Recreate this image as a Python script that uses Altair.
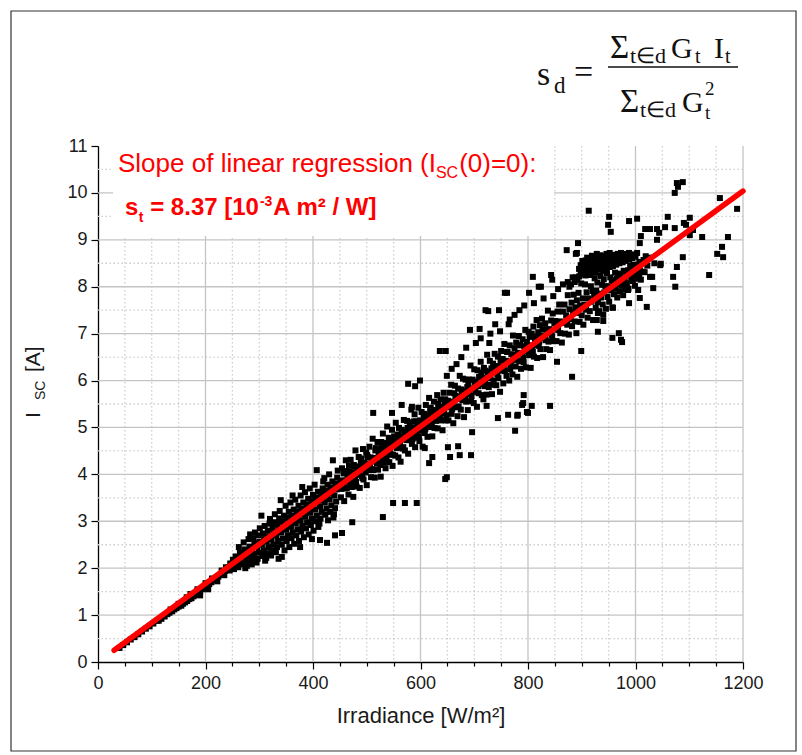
import altair as alt
import pandas as pd

# ---------------- data ----------------
# (irradiance W/m², I_SC A) pairs, grouped by region of the cloud
pts_low = [(40,0.30),(47,0.36),(54,0.42),(61,0.48),(68,0.53),(75,0.59),(82,0.65),(89,0.71),
           (96,0.76),(103,0.82),(110,0.88)]
pts_b = [(113,0.88),(118,0.92),(124,0.97),(129,1.02),(133,1.05),(138,1.08),(142,1.12),(146,1.15),
         (150,1.18),(155,1.20),(158,1.24),(162,1.27),(166,1.30),(170,1.34),(174,1.36),(178,1.40),
         (182,1.43),(186,1.47),(190,1.50),(194,1.55),(198,1.58),(203,1.62),(207,1.66),(211,1.70),
         (215,1.75),(220,1.78),(224,1.82),(228,1.86),(232,1.90),(236,1.94),(240,1.98),(244,2.02),
         (248,2.05),(165,1.38),(172,1.45),(185,1.55),(200,1.68),(212,1.78),(230,1.95),(238,2.02),
         (246,2.10),(150,1.24),(135,1.12),(190,1.42),(205,1.55),(222,1.72),(235,1.85),(245,1.95)]
pts_c = [(253,1.98),(255,2.08),(251,2.18),(256,2.25),
         (261,2.02),(263,2.12),(260,2.24),(264,2.33),(262,2.45),
         (270,2.08),(272,2.18),(269,2.30),(273,2.40),(271,2.55),(274,2.00),
         (279,2.12),(281,2.24),(278,2.36),(282,2.46),(280,2.62),(283,2.72),(277,2.05),
         (288,2.18),(290,2.30),(287,2.40),(291,2.52),(289,2.64),(292,2.76),(286,2.08),
         (297,2.20),(299,2.33),(296,2.45),(300,2.56),(298,2.70),(301,2.85),(295,2.12),
         (306,2.26),(308,2.38),(305,2.50),(309,2.62),(307,2.74),(310,2.90),(304,3.12),(311,2.16),
         (315,2.32),(317,2.45),(314,2.57),(318,2.68),(316,2.80),(319,2.95),(313,2.22),(320,3.05),
         (324,2.38),(326,2.50),(323,2.62),(327,2.74),(325,2.86),(328,2.98),(322,2.27),(329,3.15),
         (333,2.45),(335,2.58),(332,2.70),(336,2.82),(334,2.94),(337,3.06),(331,2.34),(338,3.22),(336,2.20),
         (342,2.50),(344,2.63),(341,2.76),(345,2.88),(343,3.00),(346,3.12),(340,3.45),(347,2.38),(342,2.24),
         (351,2.58),(353,2.70),(350,2.82),(354,2.95),(352,3.07),(355,3.20),(349,3.33),(356,2.45),
         (360,2.64),(362,2.76),(359,2.88),(363,3.00),(361,3.12),(364,3.25),(358,3.40),(365,2.52),(362,3.55),
         (369,2.70),(371,2.83),(368,2.96),(372,3.08),(370,3.20),(373,3.33),(367,3.46),(374,2.58),(376,2.45),
         (378,2.78),(380,2.90),(377,3.02),(381,3.15),(379,3.27),(382,3.40),(380,3.73),(383,2.66),(377,3.55),
         (387,2.85),(389,2.98),(386,3.10),(390,3.22),(388,3.35),(391,3.48),(385,3.62),(392,2.72),
         (396,2.92),(398,3.05),(395,3.18),(399,3.30),(397,3.43),(400,3.56),(394,3.70),(401,2.80),(398,2.62),
         (405,3.00),(407,3.12),(404,3.25),(408,3.38),(406,3.50),(409,3.63),(407,4.09),(403,3.78),(410,2.88),
         (414,3.06),(416,3.20),(413,3.32),(417,3.45),(415,3.58),(418,3.70),(413,2.60),(419,3.85),(412,2.95),
         (423,3.14),(425,3.27),(422,3.40),(426,3.52),(424,3.65),(427,3.78),(426,2.54),(421,3.92),(428,3.02),
         (432,3.20),(434,3.34),(431,3.47),(435,3.60),(433,3.72),(436,3.85),(437,4.30),(430,4.00),(438,3.08),
         (441,3.28),(443,3.42),(440,3.55),(444,3.68),(442,3.80),(445,3.93),(441,2.70),(446,4.08),(439,3.15)]
pts_d = [(451,3.86),(452,3.51),(454,4.13),(455,3.75),(457,4.02),(458,3.43),(460,3.87),(461,4.30),
         (463,3.71),(464,4.00),(466,3.57),(467,4.18),(469,3.90),(470,4.31),(472,3.73),(473,4.03),
         (475,3.52),(476,4.20),(478,3.90),(479,4.51),(481,3.74),(482,4.17),(484,4.04),(485,4.37),
         (487,3.71),(488,4.12),(490,4.34),(491,3.96),(493,4.54),(494,3.89),(496,4.25),(497,4.10),
         (499,4.47),(500,3.77),(502,4.37),(503,4.09),(505,4.59),(506,4.22),(508,3.94),(509,4.35),
         (511,4.76),(512,4.09),(514,4.35),(515,3.93),(517,4.56),(518,4.26),(520,4.69),(521,4.10),
         (523,4.51),(524,4.39),(526,3.95),(527,4.69),(529,4.32),(530,4.87),(532,4.25),(533,4.52),
         (535,4.13),(536,4.67),(538,5.02),(539,4.46),(541,4.78),(542,4.26),(544,4.66),(545,4.42),
         (547,4.95),(548,4.18),(550,4.63),(551,4.81),(553,4.40),(554,5.10),(556,4.56),(557,4.81),
         (559,4.36),(560,4.99),(562,4.69),(563,4.27),(565,4.95),(566,4.81),(568,4.58),(569,5.16),
         (571,4.51),(572,4.91),(574,4.73),(575,5.14),(577,4.44),(578,4.88),(580,5.11),(581,4.73),
         (583,5.38),(584,4.65),(586,5.00),(587,4.87),(589,5.28),(590,4.58),(592,5.13),(593,4.78),
         (595,4.98),(596,5.42),(598,4.71),(599,5.15),(601,4.93),(602,5.33),(604,4.59),(605,5.12),
         (607,5.29),(608,4.88),(610,5.48),(611,5.09),(613,4.80),(614,5.25),(616,5.63),(617,5.01),
         (619,5.42),(620,5.12),(622,4.81),(623,5.37),(625,5.55),(626,4.99),(628,5.30),(629,5.14),
         (631,5.69),(632,4.98),(634,5.44),(635,5.28),(637,5.60),(638,5.15),(640,5.44),(641,4.94),
         (643,5.74),(644,5.30),(646,5.60),(647,5.15),(649,5.46),
         (453,3.69),(456,3.87),(459,3.70),(462,4.07),(465,3.84),(468,4.05),(471,3.82),(474,3.99),
         (477,4.16),(480,3.84),(483,4.12),(486,3.99),(489,4.24),(492,3.92),(495,4.18),(498,4.04),
         (501,4.41),(504,4.19),(507,4.36),(510,4.11),(513,4.30),(516,4.51),(519,4.23),(522,4.44),
         (525,4.20),(528,4.58),(531,4.40),(534,4.57),(537,4.33),(540,4.55),(543,4.46),(546,4.71),
         (549,4.42),(552,4.71),(555,4.60),(558,4.85),(561,4.58),(564,4.78),(567,4.55),(570,4.87),
         (573,4.78),(576,4.99),(579,4.76),(582,4.92),(585,4.75),(588,5.13),(591,4.89),(594,5.08),
         (597,4.81),(600,5.06),(603,4.97),(606,5.22),(609,4.97),(612,5.20),(615,5.10),(618,5.35),
         (621,5.03),(624,5.24),(627,5.37),(630,5.18),(633,5.50),(636,5.18),(639,5.41),(642,5.33),
         (645,5.54),(648,5.26),
         (454,2.75),(473,2.98),(530,3.09),(549,3.39),(571,3.39),(593,3.39),(512,5.31),(547,5.31),
         (565,5.48),(584,5.44),(577,5.93),(590,5.88),(599,6.00),(636,6.63),(647,6.63),(608,4.56),
         (616,4.24),(622,4.37),(646,3.90),(649,3.94)]
pts_e = [(651,5.57),(652,5.15),(654,5.74),(655,5.43),(657,5.91),(658,5.29),(660,5.55),(661,5.09),
         (663,5.73),(664,5.89),(666,5.43),(667,5.66),(669,5.24),(670,5.83),(672,5.61),(673,6.10),
         (675,5.38),(676,5.81),(678,5.58),(679,6.04),(681,5.22),(682,5.77),(684,6.02),(685,5.55),
         (687,5.86),(688,5.37),(690,6.02),(691,5.71),(693,6.32),(694,5.56),(696,5.83),(697,6.02),
         (699,5.52),(700,6.24),(702,5.76),(703,5.98),(705,5.44),(706,6.22),(708,5.73),(709,6.08),
         (711,5.92),(712,6.40),(714,5.69),(715,6.06),(717,5.60),(718,6.27),(720,5.93),(721,6.21),
         (723,5.70),(724,6.55),(726,6.08),(727,5.86),(729,6.42),(730,6.05),(732,6.26),(733,5.71),
         (735,6.36),(736,6.00),(738,6.57),(739,6.18),(741,5.90),(742,6.31),(744,6.51),(745,6.05),
         (747,6.29),(748,5.76),(750,6.63),(751,6.21),(753,6.46),(754,5.94),(756,6.78),(757,6.20),
         (759,6.42),(760,6.10),(762,6.61),(763,6.39),(765,6.00),(766,6.75),(768,6.32),(769,6.56),
         (771,6.13),(772,6.96),(774,6.44),(775,6.69),(777,6.30),(778,6.81),(780,6.08),(781,6.59),
         (783,6.95),(784,6.41),(786,6.75),(787,6.25),(789,6.58),(790,6.88),(792,6.39),(793,6.73),
         (795,7.08),(796,6.28),(798,6.82),(799,6.62),(801,7.04),(802,6.54),(804,6.75),(805,6.27),
         (807,7.00),(808,6.66),(810,7.15),(811,6.51),(813,6.88),(814,6.76),(816,7.29),(817,6.48),
         (819,7.03),(820,6.74),(822,7.18),(823,6.67),(825,6.95),(826,7.32),(828,6.50),(829,7.09),
         (831,6.90),(832,7.22),(834,6.67),(835,7.09),(837,7.49),(838,6.83),(840,7.09),(841,6.65),
         (843,7.28),(844,6.98),(846,7.43),(847,6.84),(849,7.22),
         (653,5.52),(659,5.40),(665,5.67),(671,5.45),(677,5.69),(683,5.64),(689,5.93),(695,5.67),
         (701,5.94),(707,5.88),(713,6.17),(719,5.88),(725,6.18),(731,5.91),(737,6.22),(743,6.13),
         (749,6.42),(755,6.29),(761,6.61),(767,6.24),(773,6.55),(779,6.46),(785,6.76),(791,6.49),
         (797,6.70),(803,6.93),(809,6.61),(815,6.94),(821,6.83),(827,7.09),(833,6.86),(839,7.09),
         (845,6.93),
         (685,6.70),(692,7.08),(703,6.80),(710,7.10),(712,6.90),(721,7.50),(728,6.80),(730,7.00),
         (739,7.20),(746,7.50),(748,7.05),(757,7.87),(764,7.20),(766,7.30),(775,7.40),(784,7.50),
         (793,7.60),(802,7.87),(809,8.21),(811,7.65),(820,8.00),(829,7.75),(843,8.25),(845,8.15),
         (676,6.50),(667,6.35),(658,6.25),(649,6.10),(726,7.48),(761,7.87),(824,8.00),
         (655,4.37),(673,4.41),(694,4.41),(651,4.58),(670,4.60),(696,4.90),(744,5.20),(776,4.93),
         (780,5.25),(800,5.31),(841,5.46),(789,5.48),(807,5.46),(723,5.46),(791,5.52),(798,5.33),
         (792,5.69),(781,5.27),(763,5.27)]
pts_f = [(851,7.27),(853,6.84),(855,7.47),(856,7.08),(858,7.62),(860,7.01),(861,7.26),(863,6.81),
         (865,7.47),(866,7.23),(868,7.62),(869,7.00),(871,7.39),(873,7.19),(874,7.82),(876,6.98),
         (877,7.52),(879,7.31),(881,7.66),(882,7.16),(884,7.47),(885,7.83),(887,7.26),(888,7.56),
         (890,7.01),(891,7.71),(893,7.44),(894,7.87),(896,7.25),(897,7.60),(899,8.07),(900,7.39),
         (902,7.75),(903,7.19),(905,7.61),(906,8.05),(908,7.51),(909,7.88),(911,7.34),(912,7.75),
         (914,8.25),(915,7.48),(917,8.01),(918,7.68),(920,7.91),(921,7.29),(923,7.81),(924,8.18),
         (926,7.55),(927,7.92),(929,8.09),(930,7.67),(932,7.85),(933,7.48),(935,8.23),(936,7.77),
         (938,8.04),(939,7.62),(941,8.16),(942,7.88),(944,8.01),(945,7.53),(947,8.29),(948,7.78),
         (950,8.01),(951,7.68),(953,8.20),(954,7.92),(956,8.14),(957,7.56),(959,8.06),(960,7.84),
         (962,8.30),(963,7.96),(965,8.17),(966,7.77),(968,8.28),(969,8.07),(971,7.90),(972,8.26),
         (974,8.02),(975,8.18),(977,7.82),(978,8.34),(980,8.12),(981,7.95),(983,8.30),(984,8.07),
         (986,8.35),(987,7.96),(989,8.26),(990,8.45),(992,8.18),(993,8.36),(995,8.12),(996,8.47),
         (998,8.29),(999,8.02),(1001,8.46),(1002,8.25),(1004,8.42),(1005,8.17),(1007,8.53),(1008,8.35),
         (1010,8.15),(1011,8.51),(1013,8.32),(1015,8.57),(1017,8.31),(1019,8.65),(1022,8.45),(1025,8.62),
         # dense flat cluster near 8.2-8.7
         (895,8.22),(895,8.38),(898,8.30),(898,8.46),(901,8.26),(901,8.41),(901,8.55),(904,8.33),
         (904,8.49),(907,8.24),(907,8.40),(907,8.56),(910,8.31),(910,8.47),(910,8.62),(913,8.36),
         (913,8.52),(916,8.28),(916,8.44),(916,8.60),(919,8.35),(919,8.51),(919,8.66),(922,8.42),
         (922,8.58),(925,8.30),(925,8.47),(925,8.63),(928,8.38),(928,8.54),(928,8.70),(931,8.45),
         (931,8.60),(934,8.36),(934,8.52),(934,8.67),(937,8.43),(937,8.58),(940,8.34),(940,8.50),
         (940,8.66),(943,8.44),(943,8.61),(946,8.39),(946,8.55),(946,8.70),(949,8.47),(949,8.63),
         (952,8.42),(952,8.58),(952,8.72),(955,8.50),(955,8.66),(958,8.44),(958,8.60),(961,8.53),
         (961,8.68),(964,8.47),(964,8.62),(967,8.56),(967,8.70),(970,8.50),(970,8.64),(973,8.58),
         (973,8.72),(976,8.52),(976,8.66),(979,8.60),(982,8.55),(982,8.70),(985,8.63),(988,8.58),
         (988,8.72),(991,8.66),(994,8.61),(997,8.69),(1000,8.64),(1003,8.72),
         (887,8.10),(889,8.20),(892,8.15),(880,8.05),(877,8.00),(872,8.78),(891,8.72),(893,8.93),
         (889,8.70),(865,8.05),(883,8.20),
         # scattered points
         (913,9.62),(949,9.32),(951,9.49),(954,9.17),(988,9.40),(1003,9.45),(1008,8.93),(1010,9.08),
         (1018,9.23),(1027,9.23),(1040,9.23),(1040,9.00),(1044,9.15),(899,6.63),(930,7.04),
         (928,7.29),(940,7.27),(958,7.55),(969,7.01),(975,6.82),(973,6.87),(957,6.91),(1021,7.57),
         (1008,7.76),(1005,7.93),(1033,7.97),(1031,8.21),(1027,8.21),(1007,8.25),(1047,8.49),
         (1046,8.46),(1035,8.50),(882,6.08),(940,7.40),(930,7.44),(986,7.93),(988,7.65),(854,6.40),
         (847,7.80),(856,7.95),(874,8.10)]
pts_g = [(1055,9.27),(1060,9.49),(1070,8.21),(1074,8.00),(1077,8.42),(1073,9.25),(1077,10.21),
         (1079,10.13),(1073,10.00),(1088,10.23),(1088,8.63),(1090,9.36),(1094,9.32),(1101,9.47),
         (1107,9.21),(1101,9.10),(1124,9.06),(1137,8.25),(1152,8.70),(1161,8.85),(1163,8.63),
         (1157,9.89),(1172,9.06),(1189,9.66)]

# regression line through the origin, slope 8.37e-3 A m²/W
reg_irr = [30, 1200]
reg_isc = [0.25, 10.04]

# axis ticks and grid lines
x_tick_values = [0, 50, 100, 150, 200, 250, 300, 350, 400, 450, 500, 550, 600, 650, 700,
                 750, 800, 850, 900, 950, 1000, 1050, 1100, 1150, 1200]
y_tick_values = [0, 0.5, 1, 1.5, 2, 2.5, 3, 3.5, 4, 4.5, 5, 5.5, 6, 6.5, 7, 7.5, 8,
                 8.5, 9, 9.5, 10, 10.5, 11]
grid_x_major = [200, 400, 600, 800, 1000, 1200]
grid_x_minor = [50, 100, 150, 250, 300, 350, 450, 500, 550, 650, 700, 750, 850, 900, 950,
                1050, 1100, 1150]
grid_y_major = [1, 2, 3, 4, 5, 6, 7, 8, 9, 10]
grid_y_minor = [0.5, 1.5, 2.5, 3.5, 4.5, 5.5, 6.5, 7.5, 8.5, 9.5, 10.5]

# ---------------- chart ----------------
all_pts = pts_low + pts_b + pts_c + pts_d + pts_e + pts_f + pts_g
df = pd.DataFrame(all_pts, columns=["irr", "isc"])
df_reg = pd.DataFrame({"irr": reg_irr, "isc": reg_isc})

SANS = "Liberation Sans"
SERIF = "Liberation Serif"
RED = "#ff0000"
INK = "#1a1a1a"

xscale = alt.Scale(domain=[0, 1200], nice=False, zero=False)
yscale = alt.Scale(domain=[0, 11], nice=False, zero=False)

major_x = "datum.value % 200 === 0"
major_y = "datum.value % 1 === 0"

x_axis = alt.Axis(
    values=x_tick_values, title="Irradiance [W/m²]", format="d",
    labelExpr=f"{major_x} ? datum.label : ''", labelOverlap=False, labelFlush=False,
    grid=False,
    tickSize={"condition": {"test": major_x, "value": 7}, "value": 4},
    tickColor="black", tickWidth=1.2, domainColor="black", domainWidth=1.3,
    labelFont=SANS, labelFontSize=18, labelColor=INK, labelPadding=5,
    titleFont=SANS, titleFontSize=22, titleFontWeight="normal", titleColor=INK,
    titlePadding=13,
)
y_axis = alt.Axis(
    values=y_tick_values, title=None, format="d",
    labelExpr=f"{major_y} ? datum.label : ''", labelOverlap=False, labelFlush=False,
    grid=False,
    tickSize={"condition": {"test": major_y, "value": 7}, "value": 4},
    tickColor="black", tickWidth=1.2, domainColor="black", domainWidth=1.3,
    labelFont=SANS, labelFontSize=18, labelColor=INK, labelPadding=4,
)

X = alt.X("irr:Q", scale=xscale, axis=x_axis)
Y = alt.Y("isc:Q", scale=yscale, axis=y_axis)

# grid lines drawn as rules through the same scales (same fields and axes as the points)
gx_major = alt.Chart(pd.DataFrame({"irr": grid_x_major})).mark_rule(
    color="#c4c4c4", strokeWidth=1.3).encode(x=X)
gx_minor = alt.Chart(pd.DataFrame({"irr": grid_x_minor})).mark_rule(
    color="#cdcdcd", strokeWidth=1.3, strokeDash=[1.5, 2.5]).encode(x=X)
gy_major = alt.Chart(pd.DataFrame({"isc": grid_y_major})).mark_rule(
    color="#c4c4c4", strokeWidth=1.3).encode(y=Y)
gy_minor = alt.Chart(pd.DataFrame({"isc": grid_y_minor})).mark_rule(
    color="#cdcdcd", strokeWidth=1.3, strokeDash=[1.5, 2.5]).encode(y=Y)

points = alt.Chart(df).mark_square(size=36, color="black", opacity=1).encode(x=X, y=Y)

reg = alt.Chart(df_reg).mark_line(color=RED, strokeWidth=5.5, strokeCap="round").encode(
    x=X, y=Y)

one = pd.DataFrame({"k": [0]})
base = alt.Chart(one)

# white box behind the annotation
box = base.mark_rect(color="white", opacity=1).encode(
    x=alt.value(15), x2=alt.value(456), y=alt.value(0), y2=alt.value(90))

# outer frame
frame = base.mark_rect(filled=False, stroke="#333333", strokeWidth=1.2).encode(
    x=alt.value(-87), x2=alt.value(698), y=alt.value(-135), y2=alt.value(605))


def txt(s, x, y, size, font=SANS, color=RED, bold=False, angle=0):
    kw = dict(align="left", baseline="alphabetic", font=font, fontSize=size, color=color,
              fontWeight="bold" if bold else "normal")
    if angle:
        kw["angle"] = angle
    return base.mark_text(text=s, **kw).encode(x=alt.value(x), y=alt.value(y))


# annotation, line 1
f1 = 26
w1 = 12.227 * f1
ann = [
    txt("Slope of linear regression (I", 20, 26, f1),
    txt("SC", 20 + w1, 32, 16),
    txt("(0)=0):", 20 + w1 + 1.389 * 16 + 1, 26, f1),
]
# annotation, line 2 (bold)
f2 = 24
xs = 27
x_t = xs + 0.556 * f2 + 0.5
x_eq = x_t + 0.333 * 14 + 0.278 * f2
x_sup = x_eq + 4.531 * f2 + 1
ann += [
    txt("s", xs, 69, f2, bold=True),
    txt("t", x_t, 76, 14, bold=True),
    txt("= 8.37 [10", x_eq, 69, f2, bold=True),
    txt("-3", x_sup, 60, 14, bold=True),
    txt("A m² / W]", x_sup + 0.889 * 14 + 1, 69, f2, bold=True),
]

# y-axis title I_SC [A] (rotated, reading upwards)
ytitle = [
    txt("I", 40 - 98, 418 - 146, 21, color=INK, angle=270),
    txt("SC", 45 - 98, 400 - 146, 14, color=INK, angle=270),
    txt("[A]", 40 - 98, 372 - 146, 21, color=INK, angle=270),
]

# formula s_d = sum G I / sum G^2 (top right)
BLK = "#111111"
formula = [
    txt("s", 439, -61, 34, font=SERIF, color=BLK),
    txt("d", 456, -53, 23, font=SERIF, color=BLK),
    txt("=", 476, -63, 34, font=SERIF, color=BLK),
    txt("Σ", 512, -88, 33, font=SERIF, color=BLK),
    txt("t∈d", 532, -83, 22, font=SERIF, color=BLK),
    txt("G", 573, -88, 30, font=SERIF, color=BLK),
    txt("t", 597, -83, 20, font=SERIF, color=BLK),
    txt("I", 616, -88, 30, font=SERIF, color=BLK),
    txt("t", 627, -83, 20, font=SERIF, color=BLK),
    txt("Σ", 522, -34, 33, font=SERIF, color=BLK),
    txt("t∈d", 542, -29, 22, font=SERIF, color=BLK),
    txt("G", 584, -34, 30, font=SERIF, color=BLK),
    txt("t", 607, -27, 19, font=SERIF, color=BLK),
    txt("2", 607, -51, 19, font=SERIF, color=BLK),
]
frac = base.mark_rule(color=BLK, strokeWidth=1.5).encode(
    x=alt.value(510), x2=alt.value(640), y=alt.value(-79))

chart = alt.layer(gx_minor, gy_minor, gx_major, gy_major, box, points, reg, frame, frac,
                  *ann, *ytitle, *formula).properties(
    width=645, height=516,
    autosize=alt.AutoSizeParams(type="none"),
    padding={"left": 98, "top": 146, "right": 59, "bottom": 93},
    background="white",
).configure_view(stroke=None)

chart.save("out.html", embed_options={"renderer": "svg", "actions": False})
